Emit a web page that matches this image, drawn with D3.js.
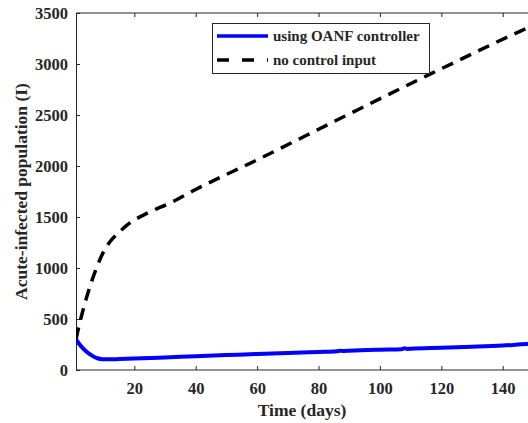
<!DOCTYPE html>
<html>
<head>
<meta charset="utf-8">
<script src="https://cdn.jsdelivr.net/npm/d3@7"></script>
<style>
  body { margin: 0; background: #fff; }
  svg text { font-family: "Liberation Serif", "Times New Roman", serif !important; font-weight: bold; fill: #262626; }
</style>
</head>
<body>
<script>
// values
var controlT   = [1, 2, 3, 4, 5, 6, 7, 8, 9, 10, 12, 15, 20, 30, 40, 50, 60, 70, 80, 86, 87, 88, 90, 100, 107, 108, 109, 110, 120, 130, 140, 148, 150];
var controlI   = [300, 258, 222, 192, 166, 146, 128, 115, 108, 105, 105, 107, 112, 123, 135, 146, 157, 166, 177, 184, 189, 186, 189, 199, 204, 214, 207, 209, 218, 228, 240, 254, 256];
var noCtrlT    = [1, 1.5, 3.3, 5.5, 7.8, 9.5, 12, 14.5, 17.6, 24.4, 31.6, 39, 60, 88, 117, 148, 150];
var noCtrlI    = [300, 370, 588, 814, 1010, 1130, 1255, 1335, 1420, 1540, 1637, 1755, 2060, 2480, 2910, 3353, 3380];
var xTicks = [20, 40, 60, 80, 100, 120, 140];
var yTicks = [0, 500, 1000, 1500, 2000, 2500, 3000, 3500];
var legendLabels = ["using OANF controller", "no control input"];

var svgWidth = 528, svgHeight = 423;
var margin = {top: 13, left: 76, bottom: 53};
var height = svgHeight - margin.top - margin.bottom;

var svg = d3.select("body").append("svg")
    .attr("width", svgWidth)
    .attr("height", svgHeight);

var x = d3.scaleLinear().domain([1, 150]).range([margin.left, margin.left + 149 * 3.07]);
var y = d3.scaleLinear().domain([0, 3500]).range([margin.top + height, margin.top]);

svg.append("clipPath").attr("id", "plotClip")
  .append("rect")
  .attr("x", margin.left).attr("y", margin.top)
  .attr("width", svgWidth - margin.left).attr("height", height);

var axisColor = "#262626";

// bottom axis
var gx = svg.append("g")
  .attr("transform", "translate(0," + y(0) + ")")
  .call(d3.axisBottom(x).tickValues(xTicks).tickSizeInner(-4).tickSizeOuter(0).tickPadding(12).tickFormat(d3.format("d")));
// top border
var gt = svg.append("g")
  .attr("transform", "translate(0," + y(3500) + ")")
  .call(d3.axisTop(x).tickValues(xTicks).tickSizeInner(-4).tickSizeOuter(0).tickFormat(""));
// left axis
var gy = svg.append("g")
  .attr("transform", "translate(" + margin.left + ",0)")
  .call(d3.axisLeft(y).tickValues(yTicks).tickSizeInner(-4).tickSizeOuter(0).tickPadding(8).tickFormat(d3.format("d")));

[gx, gt, gy].forEach(function(g){
  g.attr("font-family", null);
  g.select(".domain").attr("stroke", axisColor).attr("stroke-width", 1);
  g.selectAll(".tick line").attr("stroke", axisColor);
  g.selectAll(".tick text").style("font-size", "16.5px").style("fill", axisColor);
});
gx.select(".domain").attr("d", "M" + margin.left + ",0H" + svgWidth);
gt.select(".domain").attr("d", "M" + margin.left + ",0H" + svgWidth);

var line = d3.line()
  .x(function(d){ return x(d[0]); })
  .y(function(d){ return y(d[1]); })
  .curve(d3.curveMonotoneX);

var plot = svg.append("g").attr("clip-path", "url(#plotClip)");

plot.append("path")
  .datum(noCtrlT.map(function(t, i){ return [t, noCtrlI[i]]; }))
  .attr("fill", "none")
  .attr("stroke", "#000")
  .attr("stroke-width", 3.5)
  .attr("stroke-dasharray", "12,8")
  .attr("d", line);

plot.append("path")
  .datum(controlT.map(function(t, i){ return [t, controlI[i]]; }))
  .attr("fill", "none")
  .attr("stroke", "#0000ff")
  .attr("stroke-width", 4)
  .attr("d", line);

// legend
var lg = svg.append("g");
lg.append("rect")
  .attr("x", 212.5).attr("y", 23.5).attr("width", 217).attr("height", 50)
  .attr("fill", "#fff").attr("stroke", axisColor).attr("stroke-width", 1);
var styles = [{c: "#0000ff", w: 3.5, dash: null}, {c: "#000", w: 3.5, dash: "12,13"}];
legendLabels.forEach(function(lab, i){
  var yy = 36 + i * 24;
  lg.append("line")
    .attr("x1", 217).attr("x2", 268).attr("y1", yy).attr("y2", yy)
    .attr("stroke", styles[i].c).attr("stroke-width", styles[i].w)
    .attr("stroke-dasharray", styles[i].dash);
  lg.append("text")
    .attr("x", 273).attr("y", yy).attr("dy", "0.35em")
    .style("font-size", "15px")
    .text(lab);
});

// axis titles
svg.append("text")
  .attr("x", 302).attr("y", 416)
  .attr("text-anchor", "middle").style("font-size", "17.5px")
  .text("Time (days)");
svg.append("text")
  .attr("transform", "translate(27," + (margin.top + height / 2) + ") rotate(-90)")
  .attr("text-anchor", "middle").style("font-size", "17.5px")
  .text("Acute-infected population (I)");
</script>
</body>
</html>
